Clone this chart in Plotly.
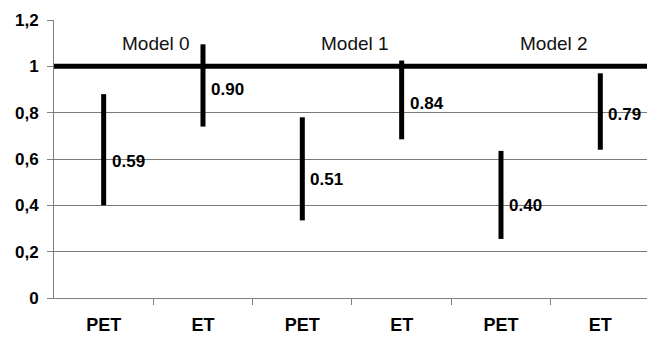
import plotly.graph_objects as go

categories = ["PET", "ET", "PET", "ET", "PET", "ET"]
models = ["Model 0", "Model 1", "Model 2"]
estimates = [0.59, 0.90, 0.51, 0.84, 0.40, 0.79]
lower = [0.40, 0.74, 0.335, 0.685, 0.255, 0.64]
upper = [0.88, 1.095, 0.78, 1.025, 0.635, 0.97]
ref_value = 1.0
ytick_vals = [0, 0.2, 0.4, 0.6, 0.8, 1.0, 1.2]
ytick_text = ["0", "0,2", "0,4", "0,6", "0,8", "1", "1,2"]

xs = [i + 0.5 for i in range(len(categories))]

seg_x, seg_y = [], []
for x, lo, hi in zip(xs, lower, upper):
    seg_x += [x, x, None]
    seg_y += [lo, hi, None]

fig = go.Figure()
fig.add_trace(go.Scatter(x=seg_x, y=seg_y, mode="lines",
                         line=dict(color="black", width=5), hoverinfo="skip",
                         showlegend=False))

fig.add_shape(type="line", xref="paper", yref="y", x0=0, x1=1,
              y0=ref_value, y1=ref_value, line=dict(color="black", width=5))

for x, est in zip(xs, estimates):
    fig.add_annotation(x=x, y=est, text=f"<b>{est:.2f}</b>", showarrow=False,
                       xanchor="left", yanchor="middle", xshift=6,
                       font=dict(family="Liberation Sans, Arial", size=17, color="black"))

for i, m in enumerate(models):
    fig.add_annotation(x=2 * i + 1.03, y=1.1, text=m, showarrow=False,
                       xanchor="center", yanchor="middle",
                       font=dict(family="Liberation Sans, Arial", size=19, color="#111"))

fig.update_layout(
    width=647, height=354,
    margin=dict(l=54, r=0, t=20, b=56, autoexpand=False),
    plot_bgcolor="white", paper_bgcolor="white",
    showlegend=False,
    xaxis=dict(range=[0, 5.97], tickmode="array", tickvals=xs,
               ticktext=[f"<b>{c}</b>" for c in categories],
               ticks="", showgrid=False, zeroline=False, automargin=False,
               showline=True, linecolor="#808080", linewidth=1,
               ticklabelstandoff=10,
               tickfont=dict(family="Liberation Sans, Arial", size=18, color="black"),
               minor=dict(tickmode="array", tickvals=[1, 2, 3, 4, 5],
                          ticks="outside", ticklen=6, tickcolor="#808080",
                          tickwidth=1, showgrid=False)),
    yaxis=dict(range=[0, 1.2], tickmode="array", tickvals=ytick_vals,
               ticktext=[f"<b>{t}</b>" for t in ytick_text],
               ticks="outside", ticklen=6, tickcolor="#808080",
               showgrid=True, gridcolor="#7a7a7a", gridwidth=1,
               zeroline=False, showline=True, linecolor="#808080", linewidth=1,
               ticklabelstandoff=5, automargin=False,
               tickfont=dict(family="Liberation Sans, Arial", size=17, color="black")),
)

fig.write_html("out.html", config={"displayModeBar": False},
               post_script="document.body.style.margin='0';")
